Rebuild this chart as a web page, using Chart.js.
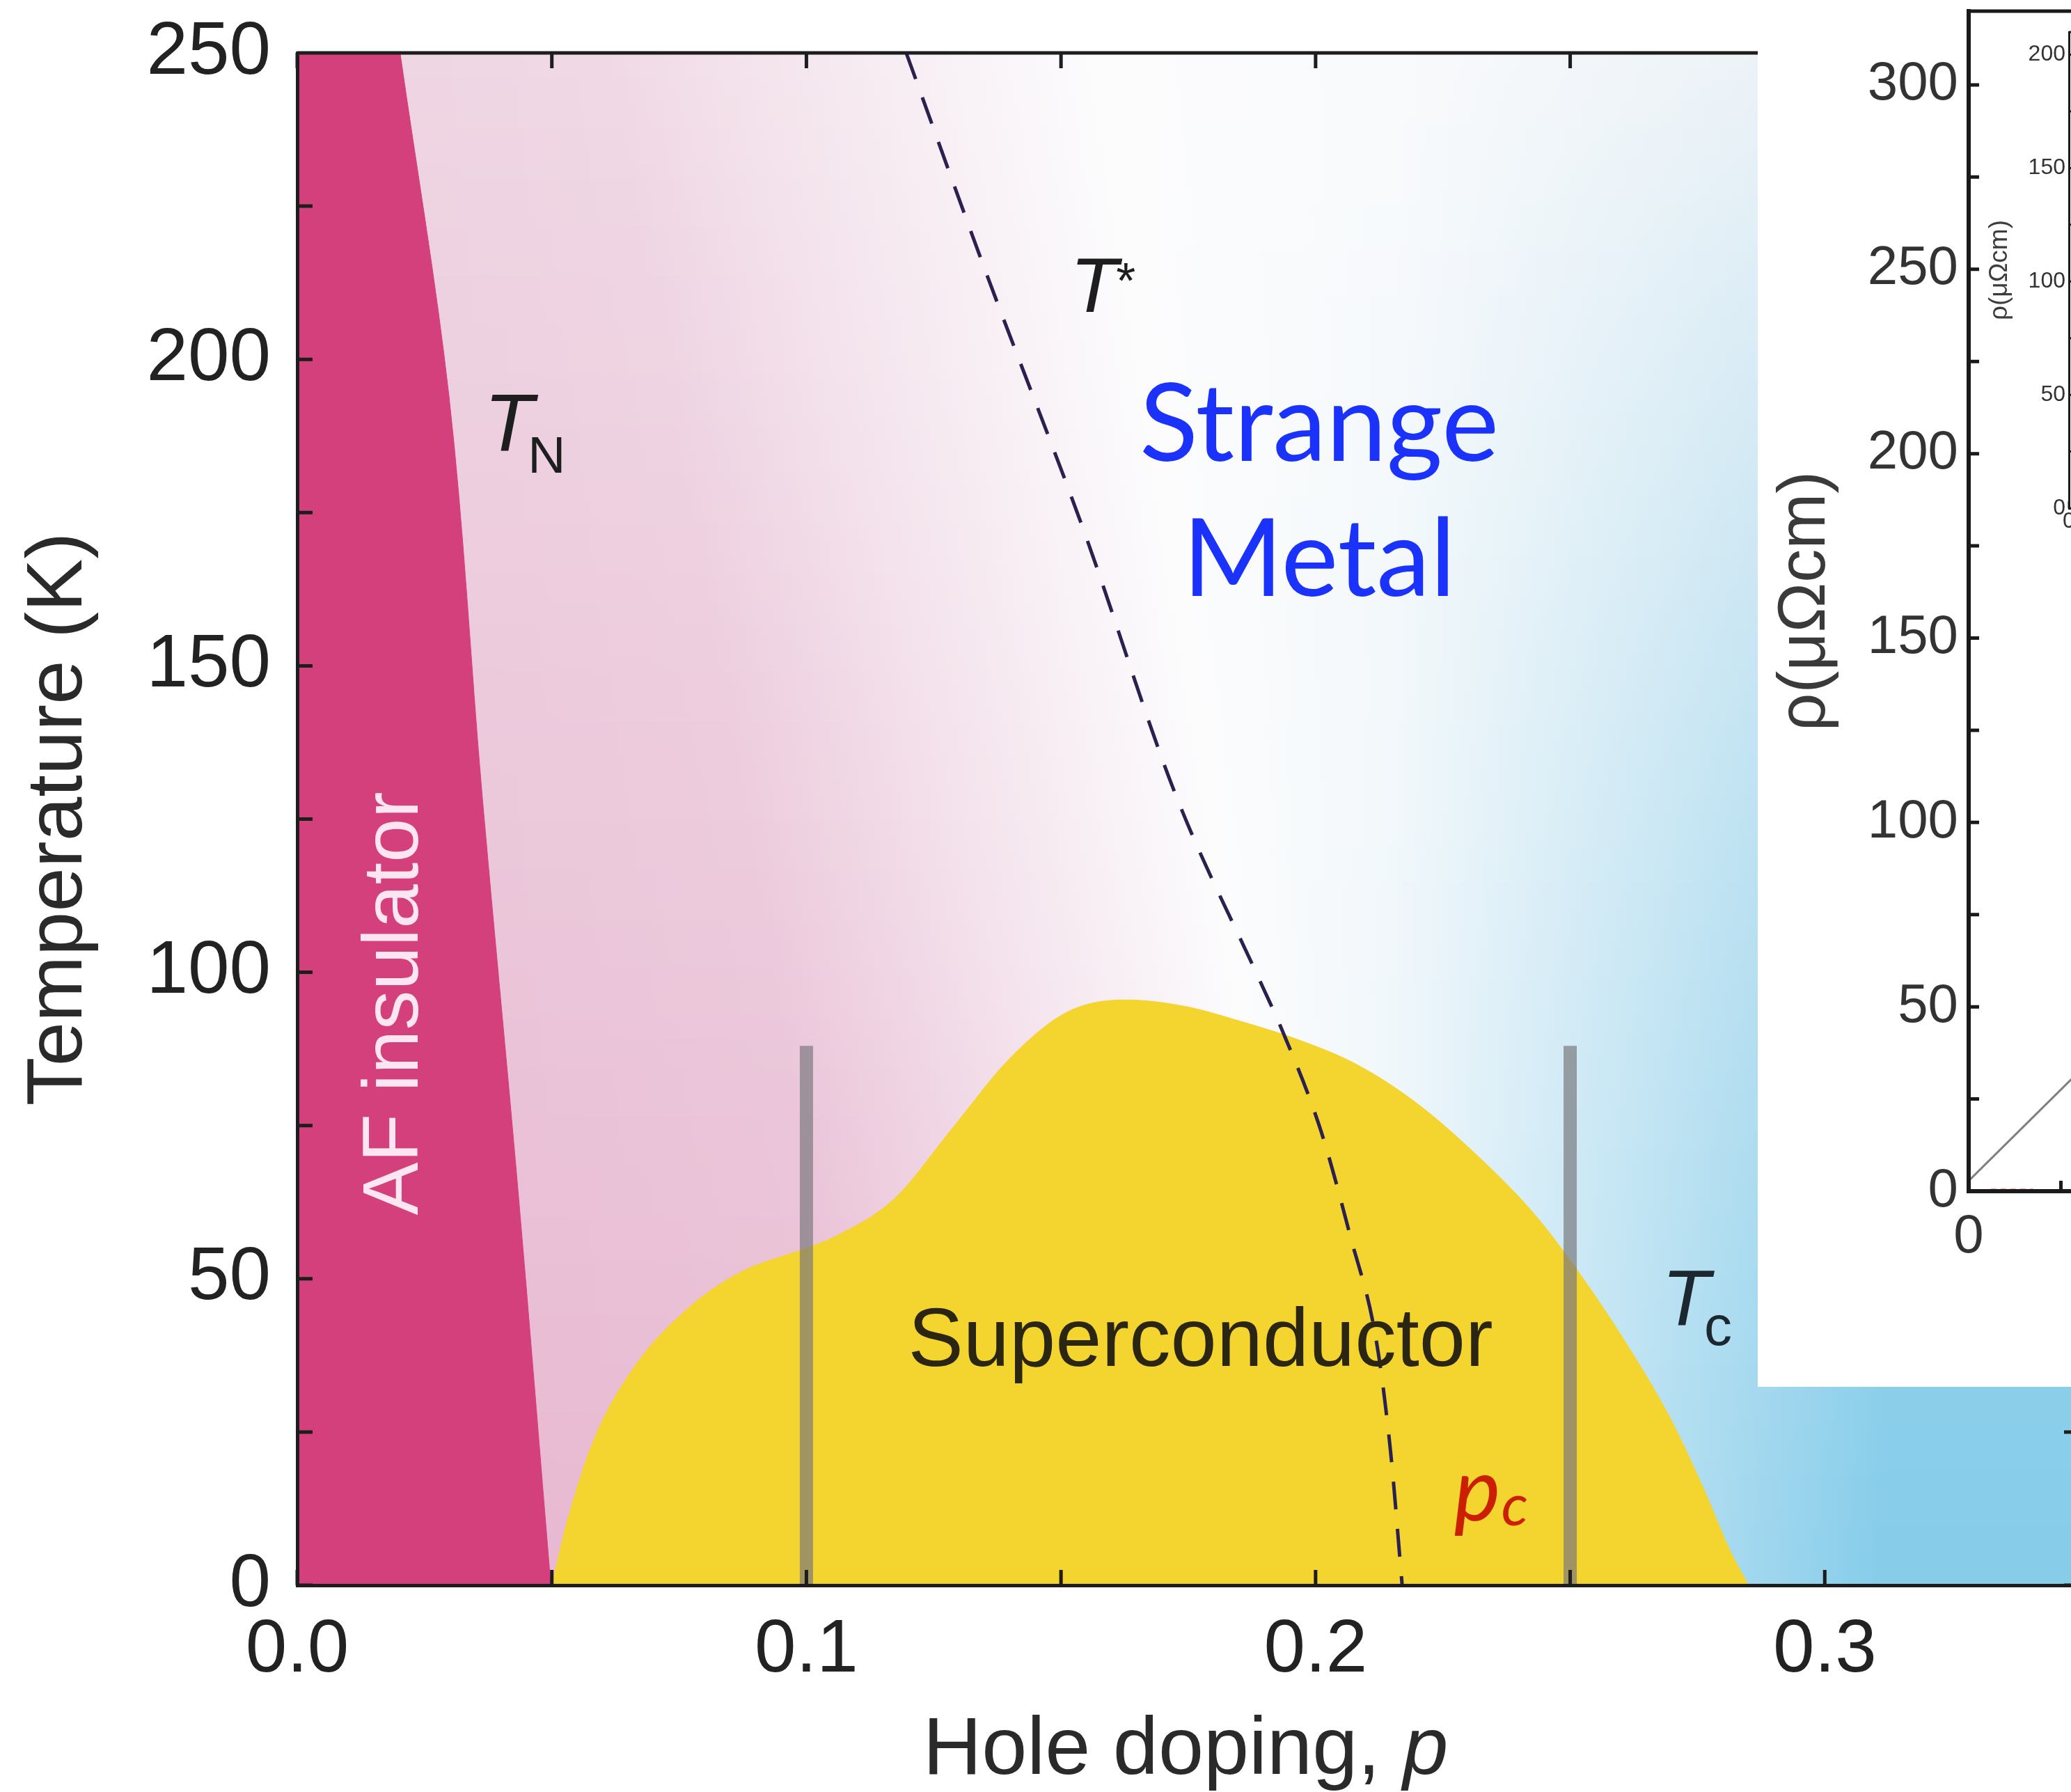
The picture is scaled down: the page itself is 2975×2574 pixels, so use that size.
<!DOCTYPE html>
<html>
<head>
<meta charset="utf-8">
<script src="https://cdn.jsdelivr.net/npm/chart.js@4.4.1/dist/chart.umd.min.js"></script>
<style>
  html, body { margin: 0; padding: 0; background: #fff; overflow: hidden; }
  #page { position: relative; width: 2975px; height: 2574px; overflow: hidden; }
  canvas { position: absolute; }
  #inset { position: absolute; left: 2525px; top: 0; width: 450px; height: 1992px; background: #fff; overflow: hidden; }
</style>
</head>
<body>
<div id="page">
  <canvas id="phase" width="2990" height="2574" style="left:0;top:0;width:2990px;height:2574px"></canvas>
  <div id="inset">
    <canvas id="rho" width="875" height="1992" style="left:0;top:0;width:875px;height:1992px"></canvas>
    <canvas id="rhoSmall" width="420" height="760" style="left:255px;top:30px;width:420px;height:760px"></canvas>
  </div>
</div>
<script>
// phase diagram: hole doping p against temperature (K)
const afP = [0.0498, 0.0433, 0.0363, 0.0298, 0.0202];   // T_N line, read bottom to top
const afT = [0, 65, 129, 194, 250];

const domeP = [0.05, 0.0532, 0.0584, 0.0661, 0.0765, 0.0869, 0.1, 0.1059, 0.1172, 0.1286, 0.14, 0.1512,
  0.1626, 0.174, 0.1853, 0.1966, 0.208, 0.2193, 0.2306, 0.2425, 0.25, 0.2606, 0.2698, 0.2766, 0.2812, 0.285];
const domeT = [0, 11, 24, 35.5, 45, 51, 55, 57, 63, 74.5, 86, 93.5,
  95.5, 94.5, 92, 89, 85, 79, 71, 61, 53, 40, 27, 15, 6, 0];

const tStarP = [0.1196, 0.1349, 0.1545, 0.1725, 0.1894, 0.1932, 0.2011, 0.2068, 0.2119, 0.2147, 0.217];
const tStarT = [250, 215, 172, 129, 98, 91, 74, 57, 40, 22, 0];

const barP = [0.1, 0.25];
const barTop = [88, 88];

const xTickValues = [0, 0.1, 0.2, 0.3];
const xTickLabels = ['0.0', '0.1', '0.2', '0.3'];
const yTickValues = [0, 50, 100, 150, 200, 250];

// inset: resistivity against temperature
const insetT = [0, 100];
const insetRho = [2.8, 101.8];
const insetZeroT = [6, 17.5];
const insetZeroRho = [0.5, 0.5];
const insetYTicks = [0, 50, 100, 150, 200, 250, 300];
const insetXTicks = [0, 50, 100];
const smallYTicks = [0, 50, 100, 150, 200];
const smallXTicks = [0];

const pts = (xs, ys) => xs.map((v, i) => ({x: v, y: ys[i]}));
const near = (a, b) => Math.abs(a - b) < 1e-9;
const SANS = '"Liberation Sans", Arial, sans-serif';

function mix(a, b, f) { return a.map((v, i) => Math.round(v + (b[i] - v) * f)); }
function rgb(c) { return 'rgb(' + c.join(',') + ')'; }

// keep chart area edges where they are set, no room kept for edge labels
function fixBox(size, key) {
  return s => {
    s[key] = size;
    s.paddingTop = 0; s.paddingBottom = 0; s.paddingLeft = 0; s.paddingRight = 0;
  };
}

// shaded background of the phase diagram
const backdrop = {
  id: 'backdrop',
  beforeDatasetsDraw(chart) {
    const {ctx, chartArea: a, scales: {x, y}} = chart;
    const x0 = x.getPixelForValue(0), x1 = x.getPixelForValue(0.35);
    const off = p => Math.min(1, Math.max(0, p / 0.35));
    ctx.save();
    for (let py = a.top; py < a.bottom; py += 3) {
      const t = Math.min(1, Math.max(0, y.getValueForPixel(py) / 250));
      const pink = mix([231, 181, 207], [238, 212, 226], t);
      const white = [252, 252, 253];
      const blue = mix([135, 205, 234], [229, 238, 244], Math.pow(t, 1.6));
      const g = ctx.createLinearGradient(x0, 0, x1, 0);
      g.addColorStop(0, rgb(pink));
      g.addColorStop(off(0.115 - 0.055 * t), rgb(mix(pink, white, 0.12)));
      g.addColorStop(off(0.202 - 0.045 * t), rgb(white));
      g.addColorStop(off(0.215), rgb(mix(white, blue, 0.12)));
      g.addColorStop(off(0.31 + 0.02 * t), rgb(blue));
      g.addColorStop(1, rgb(blue));
      ctx.fillStyle = g;
      ctx.fillRect(a.left, py, a.right - a.left, 4);
    }
    ctx.restore();
  }
};

// inward tick marks plus top/right frame lines
const frame = {
  id: 'frame',
  afterDatasetsDraw(chart, args, o) {
    const {ctx, chartArea: a, scales: {x, y}} = chart;
    ctx.save();
    ctx.strokeStyle = o.color;
    ctx.lineWidth = o.width;
    ctx.beginPath();
    ctx.moveTo(a.left, a.top); ctx.lineTo(a.right, a.top);
    if (o.right) { ctx.moveTo(a.right, a.top); ctx.lineTo(a.right, a.bottom); }
    y.ticks.forEach(t => {
      if (!near(t.value / o.yStep, Math.round(t.value / o.yStep))) return;
      const py = y.getPixelForValue(t.value);
      ctx.moveTo(a.left, py); ctx.lineTo(a.left + o.len, py);
      if (o.right) { ctx.moveTo(a.right, py); ctx.lineTo(a.right - o.len, py); }
    });
    x.ticks.forEach(t => {
      if (!near(t.value / o.xStep, Math.round(t.value / o.xStep))) return;
      const px = x.getPixelForValue(t.value);
      ctx.moveTo(px, a.bottom); ctx.lineTo(px, a.bottom - o.len);
      if (o.topTicks) { ctx.moveTo(px, a.top); ctx.lineTo(px, a.top + o.len); }
    });
    ctx.stroke();
    ctx.restore();
  }
};

// region names and line names
const notes = [
  {text: 'T', p: 0.0367, T: 185, font: 'italic 116px ' + SANS, color: '#1e1e1e'},
  {text: 'N', p: 0.0453, T: 181.5, font: '75px ' + SANS, color: '#1e1e1e'},
  {text: 'T', p: 0.1518, T: 207.7, font: 'italic 112px ' + SANS, color: '#1e1e1e'},
  {text: '*', p: 0.1608, T: 210, font: '72px ' + SANS, color: '#1e1e1e'},
  {text: 'Strange', p: 0.2007, T: 183.4, font: '155px Lato, sans-serif', color: '#1a32fa', align: 'center'},
  {text: 'Metal', p: 0.2007, T: 161.4, font: '155px Lato, sans-serif', color: '#1a32fa', align: 'center'},
  {text: 'AF insulator', p: 0.0237, T: 94.9, font: '114px ' + SANS, color: '#fde6f1', align: 'center', rotate: -90},
  {text: 'Superconductor', p: 0.1774, T: 35.8, font: '119px ' + SANS, color: '#2b2611', align: 'center'},
  {text: 'T', p: 0.268, T: 42.5, font: 'italic 113px ' + SANS, color: '#1d2730'},
  {text: 'c', p: 0.2763, T: 39.2, font: '80px ' + SANS, color: '#1d2730'},
  {text: 'p', p: 0.2272, T: 10.6, font: 'italic 126px Lato, sans-serif', color: '#cc1f00'},
  {text: 'c', p: 0.2365, T: 9.8, font: 'italic 84px Lato, sans-serif', color: '#cc1f00'}
];

const annotate = {
  id: 'annotate',
  afterDatasetsDraw(chart) {
    const {ctx, scales: {x, y}} = chart;
    notes.forEach(n => {
      ctx.save();
      ctx.font = n.font;
      ctx.fillStyle = n.color;
      ctx.textAlign = n.align || 'left';
      ctx.textBaseline = 'alphabetic';
      ctx.translate(x.getPixelForValue(n.p), y.getPixelForValue(n.T));
      if (n.rotate) ctx.rotate(n.rotate * Math.PI / 180);
      ctx.fillText(n.text, 0, 0);
      ctx.restore();
    });
  },
  afterDraw(chart) {
    const {ctx, chartArea: a} = chart;
    const reg = '117px ' + SANS, ital = 'italic 117px ' + SANS;
    ctx.save();
    ctx.fillStyle = '#2a2a2a';
    ctx.textBaseline = 'alphabetic';
    ctx.textAlign = 'left';
    ctx.font = reg;
    const w1 = ctx.measureText('Hole doping, ').width;
    ctx.font = ital;
    const w2 = ctx.measureText('p').width;
    const sx = (a.left + a.right) / 2 - 4 - (w1 + w2) / 2;
    const by = chart.height - 26;
    ctx.font = reg;
    ctx.fillText('Hole doping, ', sx, by);
    ctx.font = ital;
    ctx.fillText('p', sx + w1, by);
    ctx.restore();
  }
};

Chart.defaults.font.family = SANS;

new Chart(document.getElementById('phase'), {
  type: 'line',
  data: {
    datasets: [
      { // pseudogap line T*  (lowest index is drawn on top)
        data: pts(tStarP, tStarT), fill: false,
        borderColor: '#2b2150', borderWidth: 5, borderDash: [40, 28],
        pointRadius: 0, cubicInterpolationMode: 'monotone'
      },
      {
        data: pts([barP[0], barP[0]], [0, barTop[0]]), fill: false,
        borderColor: 'rgba(120,120,124,0.68)', borderWidth: 19, borderCapStyle: 'butt', pointRadius: 0
      },
      {
        data: pts([barP[1], barP[1]], [0, barTop[1]]), fill: false,
        borderColor: 'rgba(120,120,124,0.68)', borderWidth: 19, borderCapStyle: 'butt', pointRadius: 0
      },
      { // superconducting dome
        data: pts(domeP, domeT), fill: 'origin',
        backgroundColor: '#f4d42e', borderColor: '#f4d42e', borderWidth: 1,
        pointRadius: 0, cubicInterpolationMode: 'monotone'
      },
      { // antiferromagnetic insulator, filled left of T_N
        data: pts(afP, afT), indexAxis: 'y', fill: 'origin',
        backgroundColor: '#d3407b', borderColor: '#d3407b', borderWidth: 1,
        pointRadius: 0, cubicInterpolationMode: 'monotone'
      }
    ]
  },
  options: {
    responsive: false,
    animation: false,
    devicePixelRatio: 1,
    layout: { padding: { left: 0, top: 76, right: 3, bottom: 0 } },
    plugins: {
      legend: { display: false },
      tooltip: { enabled: false },
      frame: { color: '#1d1d1d', width: 5, len: 22, right: true, topTicks: true, xStep: 0.05, yStep: 25 }
    },
    scales: {
      x: {
        type: 'linear', position: 'bottom', min: 0, max: 0.35,
        grid: { display: false, drawTicks: false },
        border: { display: true, color: '#1d1d1d', width: 5, z: 1 },
        ticks: {
          stepSize: 0.05, autoSkip: false, maxRotation: 0, minRotation: 0, includeBounds: false,
          padding: 30, color: '#222', font: { size: 107 },
          callback: v => { const i = xTickValues.findIndex(t => near(t, v)); return i < 0 ? '' : xTickLabels[i]; }
        },
        afterFit: fixBox(297, 'height')
      },
      y: {
        type: 'linear', min: 0, max: 250,
        grid: { display: false, drawTicks: false },
        border: { display: true, color: '#1d1d1d', width: 5, z: 1 },
        ticks: {
          stepSize: 25, autoSkip: false, includeBounds: false,
          padding: 38, color: '#222', font: { size: 107 },
          callback: v => yTickValues.includes(v) ? String(v) : ''
        },
        title: { display: true, text: 'Temperature (K)', color: '#2a2a2a', font: { size: 114 }, padding: { top: 17, bottom: 0 } },
        afterFit: fixBox(427, 'width')
      }
    }
  },
  plugins: [backdrop, frame, annotate]
});

// inset: rho(T)
new Chart(document.getElementById('rho'), {
  type: 'line',
  data: {
    datasets: [
      { data: pts(insetT, insetRho), borderColor: '#808080', borderWidth: 3, pointRadius: 0, fill: false },
      { data: pts(insetZeroT, insetZeroRho), borderColor: 'rgba(235,90,90,0.45)', borderWidth: 3, borderDash: [8, 6], pointRadius: 0, fill: false }
    ]
  },
  options: {
    responsive: false,
    animation: false,
    devicePixelRatio: 1,
    layout: { padding: { left: 0, top: 16, right: 42, bottom: 0 } },
    plugins: {
      legend: { display: false },
      tooltip: { enabled: false },
      frame: { color: '#1a1a1a', width: 5, len: 15, right: false, topTicks: false, xStep: 25, yStep: 25 }
    },
    scales: {
      x: {
        type: 'linear', min: 0, max: 100,
        grid: { display: false, drawTicks: false },
        border: { display: true, color: '#1a1a1a', width: 6, z: 1 },
        ticks: {
          stepSize: 25, autoSkip: false, maxRotation: 0, includeBounds: false,
          padding: 20, color: '#333', font: { size: 78 },
          callback: v => insetXTicks.includes(v) ? String(v) : ''
        },
        afterFit: fixBox(281, 'height')
      },
      y: {
        type: 'linear', min: 0, max: 320,
        grid: { display: false, drawTicks: false },
        border: { display: true, color: '#1a1a1a', width: 6, z: 1 },
        ticks: {
          stepSize: 25, autoSkip: false, includeBounds: false,
          padding: 15, color: '#333', font: { size: 78 },
          callback: v => insetYTicks.includes(v) ? String(v) : ''
        },
        title: { display: true, text: 'ρ(μΩcm)', color: '#3a3a3a', font: { size: 96 }, padding: { top: 12, bottom: 0 } },
        afterFit: fixBox(303, 'width')
      }
    }
  },
  plugins: [frame]
});

// smaller inset inside the inset
new Chart(document.getElementById('rhoSmall'), {
  type: 'line',
  data: { datasets: [] },
  options: {
    responsive: false,
    animation: false,
    devicePixelRatio: 1,
    layout: { padding: { left: 0, top: 16, right: 20, bottom: 0 } },
    plugins: {
      legend: { display: false },
      tooltip: { enabled: false },
      frame: { color: '#1a1a1a', width: 3, len: 10, right: false, topTicks: false, xStep: 25, yStep: 25 }
    },
    scales: {
      x: {
        type: 'linear', min: 0, max: 100,
        grid: { display: false, drawTicks: false },
        border: { display: true, color: '#1a1a1a', width: 3, z: 1 },
        ticks: {
          stepSize: 25, autoSkip: false, maxRotation: 0, includeBounds: false,
          padding: 0, color: '#333', font: { size: 32 },
          callback: v => smallXTicks.includes(v) ? String(v) : ''
        },
        afterFit: fixBox(60, 'height')
      },
      y: {
        type: 'linear', min: 0, max: 210,
        grid: { display: false, drawTicks: false },
        border: { display: true, color: '#1a1a1a', width: 3, z: 1 },
        ticks: {
          stepSize: 25, autoSkip: false, includeBounds: false,
          padding: 5, color: '#333', font: { size: 32 },
          callback: v => smallYTicks.includes(v) ? String(v) : ''
        },
        title: { display: true, text: 'ρ(μΩcm)', color: '#3d3d3d', font: { size: 37 }, padding: { top: 71, bottom: 0 } },
        afterFit: fixBox(192, 'width')
      }
    }
  },
  plugins: [frame]
});
</script>
</body>
</html>
